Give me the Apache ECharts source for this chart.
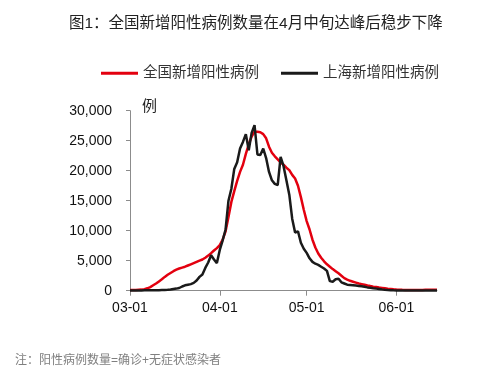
<!DOCTYPE html>
<html><head><meta charset="utf-8">
<script src="https://cdn.jsdelivr.net/npm/echarts@6/dist/echarts.min.js"></script>
<style>html,body{margin:0;padding:0;background:#fff}#c{width:480px;height:373px}</style>
</head><body><div id="c"></div>
<script>
// Categories: daily dates 03-01 .. 06-15
var categories = [];
(function(){
  var months = [[3,31],[4,30],[5,31],[6,15]];
  months.forEach(function(m){
    for (var d = 1; d <= m[1]; d++) {
      categories.push('0' + m[0] + '-' + (d < 10 ? '0' + d : '' + d));
    }
  });
})();
var seriesNames = ['全国新增阳性病例', '上海新增阳性病例'];
var nationalValues = [
  100,100,120,150,180,250,400,600,900,1200,
  1550,1900,2300,2650,2950,3250,3500,3700,3850,4000,
  4200,4400,4600,4800,5000,5200,5500,5850,6250,6700,
  7100,7600,8500,9900,12300,14800,16600,18300,19800,21000,
  22800,24400,25700,26500,26500,26400,26100,25400,24000,23000,
  22400,21900,21400,21000,20500,20100,19300,18700,17500,15600,
  13500,11600,10200,8500,7200,6200,5500,4900,4400,4000,
  3600,3250,2900,2500,2100,1850,1650,1500,1350,1200,
  1100,1000,880,770,680,600,520,460,400,340,
  290,240,200,170,140,120,100,100,100,110,
  120,130,140,150,160,170,170
];
var shanghaiValues = [
  30,40,50,50,50,60,70,70,70,60,
  80,100,120,150,200,280,350,450,700,900,
  1000,1100,1300,1700,2300,2700,3800,4700,5900,5200,
  4600,6800,8400,10200,15000,17000,20300,21400,23700,24800,
  26100,23400,26300,27600,22700,22600,23700,22100,19800,18400,
  17800,17600,22300,20800,18400,16000,12000,9700,9900,8000,
  7000,6300,5400,4800,4500,4300,4000,3700,3300,1600,
  1500,1900,2000,1400,1200,1000,950,900,850,800,
  750,650,550,500,420,350,300,220,150,100,
  80,60,50,40,40,40,40,30,30,30,
  30,30,30,30,30,30,30
];
var yTicks = [0, 5000, 10000, 15000, 20000, 25000, 30000];
var titleText = '图1：全国新增阳性病例数量在4月中旬达峰后稳步下降';
var noteText = '注：阳性病例数量=确诊+无症状感染者';
var unitText = '例';

var FONT = '"Liberation Sans", Arial, "Noto Sans CJK SC", sans-serif';
function fmt(v){ return String(v).replace(/\B(?=(\d{3})+(?!\d))/g, ','); }
function isMonthStart(idx, val){ return /-01$/.test(val); }

var chart = echarts.init(document.getElementById('c'), null, {renderer:'canvas'});
chart.setOption({
  animation: false,
  backgroundColor: '#fff',
  title: [
    {text: titleText, left: 64, top: 11,
     textStyle: {fontSize: 15.5, fontWeight: 'normal', color: '#222', fontFamily: FONT}},
    {text: noteText, left: 10, top: 350,
     textStyle: {fontSize: 12, fontWeight: 'normal', color: '#7f7f7f', fontFamily: FONT}}
  ],
  legend: {
    left: 96, top: 61,
    icon: 'rect', itemWidth: 37, itemHeight: 3, itemGap: 22,
    textStyle: {fontSize: 14.5, color: '#333', fontFamily: FONT},
    data: seriesNames
  },
  grid: {left: 130, right: 43, top: 110.7, bottom: 82.3, containLabel: false},
  xAxis: {
    type: 'category', boundaryGap: false, data: categories,
    axisLine: {lineStyle: {color: '#8c8c8c', width: 1}},
    axisTick: {interval: isMonthStart, length: 5, lineStyle: {color: '#8c8c8c'}},
    axisLabel: {interval: isMonthStart, color: '#111', fontSize: 14, margin: 10, fontFamily: FONT}
  },
  yAxis: {
    type: 'value', min: 0, max: 30000, interval: 5000,
    name: unitText, nameLocation: 'end', nameGap: 4,
    nameTextStyle: {fontSize: 15, color: '#222', align: 'left', verticalAlign: 'middle', padding: [0,0,0,12], fontFamily: FONT},
    axisLine: {show: true, lineStyle: {color: '#8c8c8c', width: 1}},
    axisTick: {show: true, length: 4, lineStyle: {color: '#8c8c8c'}},
    splitLine: {show: false},
    axisLabel: {formatter: function(v){ return fmt(v); }, color: '#111', fontSize: 14, margin: 18, fontFamily: FONT}
  },
  series: [
    {name: seriesNames[0], type: 'line', data: nationalValues, symbol: 'none', smooth: false,
     lineStyle: {color: '#e3000f', width: 2.5}, itemStyle: {color: '#e3000f'}},
    {name: seriesNames[1], type: 'line', data: shanghaiValues, symbol: 'none', smooth: false,
     lineStyle: {color: '#1a1a1a', width: 2.5}, itemStyle: {color: '#1a1a1a'}}
  ]
});
</script>
</body></html>
